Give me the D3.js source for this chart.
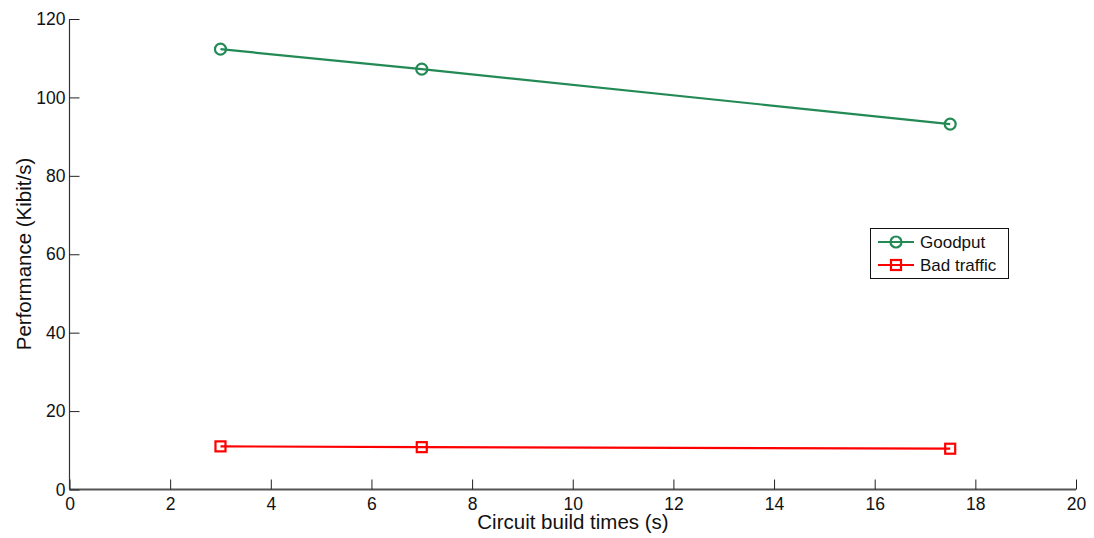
<!DOCTYPE html>
<html>
<head>
<meta charset="utf-8">
<script src="https://cdn.jsdelivr.net/npm/d3@7"></script>
<style>
  html, body { margin: 0; padding: 0; background: #fff; }
  svg { display: block; font-family: "Liberation Sans", Arial, sans-serif; }
</style>
</head>
<body>
<svg id="chart" width="1094" height="538"></svg>
<script>
// Circuit build time (s) vs. measured throughput (Kibit/s)
const buildTimes = [3, 7, 17.5];
const goodput = [112.3, 107.2, 93.2];
const badTraffic = [11.0, 10.8, 10.4];
const xTicks = [0, 2, 4, 6, 8, 10, 12, 14, 16, 18, 20];
const yTicks = [0, 20, 40, 60, 80, 100, 120];

const svg = d3.select("#chart");
const plotLeft = 69.5, plotRight = 1076, plotTop = 19, plotBottom = 489.5;

const x = d3.scaleLinear().domain([0, 20]).range([plotLeft, plotRight]);
const y = d3.scaleLinear().domain([0, 120]).range([plotBottom, plotTop]);

const green = "#238a55";
const red = "#ff0000";

// Axes: ticks point inward, no box
const xAxis = svg.append("g")
  .attr("transform", `translate(0,${plotBottom})`)
  .call(d3.axisBottom(x).tickValues(xTicks).tickSize(-10).tickPadding(6).tickFormat(d3.format("d")));
xAxis.select(".domain").attr("stroke", "#555").attr("stroke-width", 2).attr("d", `M${plotLeft},0H${plotRight}`);
xAxis.selectAll(".tick line").attr("stroke", "#222");
xAxis.selectAll(".tick text").attr("font-size", 17.5).attr("fill", "#111").attr("dy", "0.8em");

const yAxis = svg.append("g")
  .attr("transform", `translate(${plotLeft},0)`)
  .call(d3.axisLeft(y).tickValues(yTicks).tickSize(-10).tickPadding(4).tickFormat(d3.format("d")));
yAxis.select(".domain").attr("stroke", "#333").attr("stroke-width", 1.2).attr("d", `M0,${plotTop}V${plotBottom}`);
yAxis.selectAll(".tick line").attr("stroke", "#222");
yAxis.selectAll(".tick text").attr("font-size", 17.5).attr("fill", "#111");

// Axis titles
svg.append("text")
  .attr("x", 573).attr("y", 529)
  .attr("text-anchor", "middle").attr("font-size", 20.5).attr("fill", "#111")
  .text("Circuit build times (s)");
svg.append("text")
  .attr("transform", `translate(31,254) rotate(-90)`)
  .attr("text-anchor", "middle").attr("font-size", 20.5).attr("fill", "#111")
  .text("Performance (Kibit/s)");

const line = d3.line().x(d => x(d[0])).y(d => y(d[1]));

// Goodput series
const gData = buildTimes.map((t, i) => [t, goodput[i]]);
svg.append("path").datum(gData).attr("d", line)
  .attr("fill", "none").attr("stroke", green).attr("stroke-width", 2.2);
svg.selectAll(".gm").data(gData).enter().append("circle")
  .attr("cx", d => x(d[0])).attr("cy", d => y(d[1])).attr("r", 5.5)
  .attr("fill", "none").attr("stroke", green).attr("stroke-width", 2.2);

// Bad traffic series
const bData = buildTimes.map((t, i) => [t, badTraffic[i]]);
svg.append("path").datum(bData).attr("d", line)
  .attr("fill", "none").attr("stroke", red).attr("stroke-width", 2.2);
svg.selectAll(".bm").data(bData).enter().append("rect")
  .attr("x", d => x(d[0]) - 5).attr("y", d => y(d[1]) - 5)
  .attr("width", 10).attr("height", 10)
  .attr("fill", "none").attr("stroke", red).attr("stroke-width", 2.2);

// Legend
const lg = svg.append("g").attr("transform", "translate(870,228)");
lg.append("rect").attr("x", 0.5).attr("y", 0.5).attr("width", 138).attr("height", 50)
  .attr("fill", "#fff").attr("stroke", "#111").attr("stroke-width", 1);
const items = [
  { name: "Goodput", color: green, shape: "circle" },
  { name: "Bad traffic", color: red, shape: "square" }
];
items.forEach((it, i) => {
  const cy = 14 + i * 23;
  lg.append("line").attr("x1", 8).attr("x2", 44).attr("y1", cy).attr("y2", cy)
    .attr("stroke", it.color).attr("stroke-width", 2.2);
  if (it.shape === "circle") {
    lg.append("circle").attr("cx", 26).attr("cy", cy).attr("r", 5.5)
      .attr("fill", "none").attr("stroke", it.color).attr("stroke-width", 2.2);
  } else {
    lg.append("rect").attr("x", 21).attr("y", cy - 5).attr("width", 10).attr("height", 10)
      .attr("fill", "none").attr("stroke", it.color).attr("stroke-width", 2.2);
  }
  lg.append("text").attr("x", 50).attr("y", cy).attr("dy", "0.35em")
    .attr("font-size", 17).attr("fill", "#111").text(it.name);
});
</script>
</body>
</html>
